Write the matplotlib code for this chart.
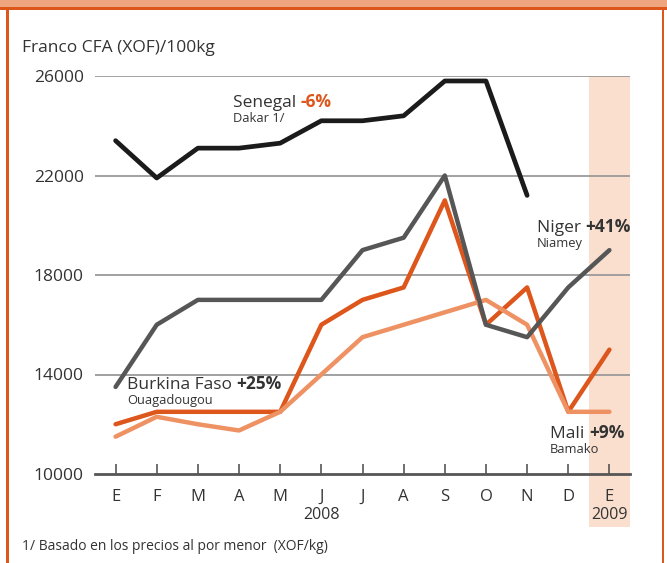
import matplotlib.pyplot as plt
from matplotlib.patches import Rectangle

plt.rcParams["font.family"] = ["Open Sans", "DejaVu Sans"]

# ---------------------------------------------------------------------------
# Data (XOF / 100 kg), Jan 2008 - Jan 2009
# ---------------------------------------------------------------------------
months = ["E", "F", "M", "A", "M", "J", "J", "A", "S", "O", "N", "D", "E"]
senegal = [23400, 21900, 23100, 23100, 23300, 24200, 24200, 24400, 25800, 25800, 21200]
niger = [13500, 16000, 17000, 17000, 17000, 17000, 19000, 19500, 22000, 16000, 15500, 17500, 19000]
burkina = [12000, 12500, 12500, 12500, 12500, 16000, 17000, 17500, 21000, 16000, 17500, 12500, 15000]
mali = [11500, 12300, 12000, 11750, 12500, 14000, 15500, 16000, 16500, 17000, 16000, 12500, 12500]
yticks = [10000, 14000, 18000, 22000, 26000]

C_BLACK = "#1b1b1b"
C_GREY = "#565656"
C_RED = "#dd561c"
C_LIGHT = "#ee9263"
C_BAND = "#fadfcf"
C_TEXT = "#333333"

W, H = 667, 563
fig = plt.figure(figsize=(W / 100, H / 100), dpi=100)

# frame decoration
fig.patches.append(Rectangle((0, 1 - 8 / H), 1, 8 / H, transform=fig.transFigure,
                             facecolor="#efa57e", edgecolor="none"))
fig.patches.append(Rectangle((0, 1 - 10 / H), 1, 3 / H, transform=fig.transFigure,
                             facecolor=C_RED, edgecolor="none"))
fig.patches.append(Rectangle((6 / W, 0), 2.5 / W, 1 - 10 / H, transform=fig.transFigure,
                             facecolor=C_RED, edgecolor="none"))
fig.patches.append(Rectangle((661.5 / W, 0), 2.5 / W, 1 - 10 / H, transform=fig.transFigure,
                             facecolor=C_RED, edgecolor="none"))

ax = fig.add_axes([95 / W, (H - 474) / H, 535 / W, 398 / H])
ax.set_xlim(-0.5, 12.5)
ax.set_ylim(10000, 26000)

# shaded 2009 band, reaching below the axis
ax.add_patch(Rectangle((11.5, -0.133), 1.0, 1.133, transform=ax.get_xaxis_transform(),
                       facecolor=C_BAND, edgecolor="none", clip_on=False, zorder=0))

for v in yticks[1:]:
    ax.axhline(v, color="#9a9a9a", lw=1.3, zorder=1)

x_all = list(range(len(months)))
ax.plot(x_all, burkina, color=C_RED, lw=3.2, solid_capstyle="round", zorder=3)
ax.plot(x_all, mali, color=C_LIGHT, lw=3.2, solid_capstyle="round", zorder=3)
ax.plot(x_all, niger, color=C_GREY, lw=3.2, solid_capstyle="round", zorder=4)
ax.plot(x_all[:len(senegal)], senegal, color=C_BLACK, lw=3.4, solid_capstyle="round", zorder=5)

for s in ["top", "right", "left"]:
    ax.spines[s].set_visible(False)
ax.spines["bottom"].set_color(C_GREY)
ax.spines["bottom"].set_linewidth(2)
ax.spines["bottom"].set_zorder(6)

ax.set_xticks(x_all)
ax.set_xticklabels(months, fontsize=12, color=C_TEXT)
ax.tick_params(axis="x", direction="in", length=7, width=1.2, color=C_GREY, pad=11)
ax.set_yticks(yticks)
ax.set_yticklabels([str(v) for v in yticks], fontsize=12.5, color=C_TEXT)
ax.tick_params(axis="y", length=0, pad=8)

ax.text(5, -0.082, "2008", transform=ax.get_xaxis_transform(), ha="center", va="top",
        fontsize=11.5, color=C_TEXT)
ax.text(12, -0.082, "2009", transform=ax.get_xaxis_transform(), ha="center", va="top",
        fontsize=11.5, color=C_TEXT)


def label(x, y, name, pct, sub, pct_color):
    t = fig.text(x / W, 1 - y / H, name + " ", fontsize=12.5, color=C_TEXT,
                 va="baseline", ha="left")
    ax.annotate(pct, xy=(1, 0), xycoords=t, va="bottom", ha="left",
                fontsize=12.5, fontweight="bold", color=pct_color)
    fig.text(x / W, 1 - (y + 15) / H, sub, fontsize=9.3, color=C_TEXT,
             va="baseline", ha="left")


label(233, 107, "Senegal", "-6%", "Dakar 1/", C_RED)
label(537, 232, "Niger", "+41%", "Niamey", C_TEXT)
label(127, 389, "Burkina Faso", "+25%", "Ouagadougou", C_TEXT)
label(550, 438, "Mali", "+9%", "Bamako", C_TEXT)

fig.text(22 / W, 1 - 48 / H, "Franco CFA (XOF)/100kg", fontsize=12.5, color=C_TEXT,
         va="center", ha="left")
fig.text(22 / W, 1 - 547 / H, "1/ Basado en los precios al por menor  (XOF/kg)",
         fontsize=10, color=C_TEXT, va="center", ha="left")

fig.savefig("out.png", dpi=100)
